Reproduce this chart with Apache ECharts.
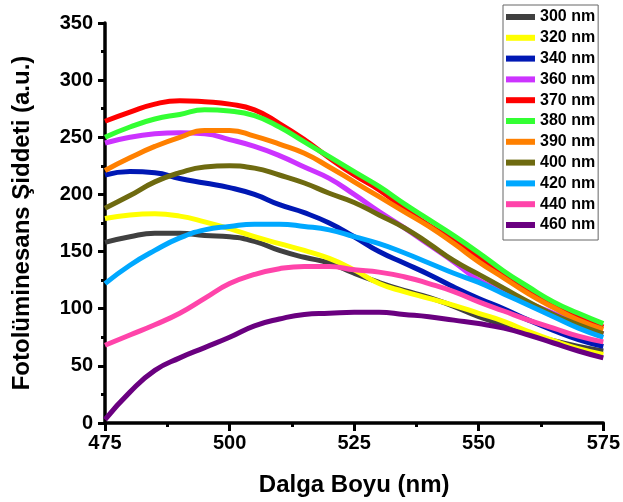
<!DOCTYPE html>
<html>
<head>
<meta charset="utf-8">
<script src="https://cdn.jsdelivr.net/npm/echarts@6/dist/echarts.min.js"></script>
<style>html,body{margin:0;padding:0;background:#fff}#c{width:623px;height:502px}</style>
</head>
<body>
<div id="c"></div>
<script>
var wavelengths = [475,480,485,490,495,500,505,510,515,520,525,530,535,540,545,550,555,560,565,570,575];
var seriesNames = ['300 nm','320 nm','340 nm','360 nm','370 nm','380 nm','390 nm','400 nm','420 nm','440 nm','460 nm'];
var seriesColors = ['#404040','#ffff00','#0018b4','#cc33ff','#ff0000','#33ff33','#ff8000','#6e6a10','#00a8ff','#ff44aa','#6a0080'];
var s300 = [158,163,166,166,164,163,159,151,145,140,131,123,116,110,102,93,86,78,72,67,63];
var s320 = [179,182,183,181,176,170,163,157,151,144,134,122,115,109,103,96,89,80,72,65,60];
var s340 = [217,220,219,214,210,206,200,191,184,175,163,150,140,130,119,109,100,90,81,73,67];
var s360 = [245,250,253,254,253,248,242,234,224,214,200,185,171,156,141,125,115,105,96,87,78];
var s370 = [264,272,279,282,281,279,274,262,248,232,217,204,188,173,160,145,129,115,103,93,84];
var s380 = [250,259,266,270,274,273,269,259,246,233,220,207,192,178,164,149,133,119,106,96,87];
var s390 = [221,232,242,250,256,256,251,244,236,224,211,198,185,172,157,141,127,113,101,90,82];
var s400 = [188,199,211,219,224,225,223,217,210,201,193,182,171,157,142,130,118,106,95,86,78];
var s420 = [122,138,151,162,169,172,174,174,172,169,163,157,149,140,131,123,113,103,93,83,75];
var s440 = [68,77,86,96,109,122,130,135,137,137,134,132,128,122,115,106,98,90,83,76,71];
var s460 = [3,27,46,57,66,75,85,91,95,96,97,97,95,93,90,87,83,77,70,63,57];
var allValues = [s300,s320,s340,s360,s370,s380,s390,s400,s420,s440,s460];

var font = '"Liberation Sans", Arial, sans-serif';
var chart = echarts.init(document.getElementById('c'), null, {renderer:'canvas'});
var series = seriesNames.map(function(n,i){
  return {
    name:n, type:'line', smooth:0.5, symbol:'none',
    data: wavelengths.map(function(w,j){return [w, allValues[i][j]];}),
    lineStyle:{width:5,color:seriesColors[i]},
    itemStyle:{color:seriesColors[i]}
  };
});
chart.setOption({
  animation:false,
  backgroundColor:'#fff',
  grid:{left:105,right:18,top:23,bottom:79,containLabel:false},
  legend:{
    orient:'vertical', left:503, top:5, width:96,
    padding:[4,3,7,3],
    borderColor:'#666', borderWidth:1,
    icon:'rect', itemWidth:29, itemHeight:6, itemGap:4.8,
    textStyle:{fontFamily:font,fontWeight:'bold',fontSize:16,color:'#000',lineHeight:16},
    data:seriesNames
  },
  xAxis:{
    type:'value', min:475, max:575, interval:25,
    name:'Dalga Boyu (nm)', nameLocation:'middle', nameGap:50,
    nameTextStyle:{fontFamily:font,fontWeight:'bold',fontSize:24,color:'#000'},
    axisLine:{show:true,onZero:false,lineStyle:{color:'#000',width:3.5}},
    axisTick:{show:true,length:8,lineStyle:{color:'#000',width:3}},
    minorTick:{show:true,splitNumber:2,length:4,lineStyle:{color:'#000',width:3}},
    splitLine:{show:false},
    axisLabel:{fontFamily:font,fontWeight:'bold',fontSize:20,color:'#000',margin:10}
  },
  yAxis:{
    type:'value', min:0, max:350, interval:50,
    name:'Fotolüminesans Şiddeti (a.u.)', nameLocation:'middle', nameGap:71,
    nameTextStyle:{fontFamily:font,fontWeight:'bold',fontSize:24,color:'#000'},
    axisLine:{show:true,lineStyle:{color:'#000',width:3.5}},
    axisTick:{show:true,length:7,lineStyle:{color:'#000',width:3}},
    minorTick:{show:true,splitNumber:2,length:4,lineStyle:{color:'#000',width:3}},
    splitLine:{show:false},
    axisLabel:{fontFamily:font,fontWeight:'bold',fontSize:20,color:'#000',margin:12}
  },
  series:series
});
</script>
</body>
</html>
